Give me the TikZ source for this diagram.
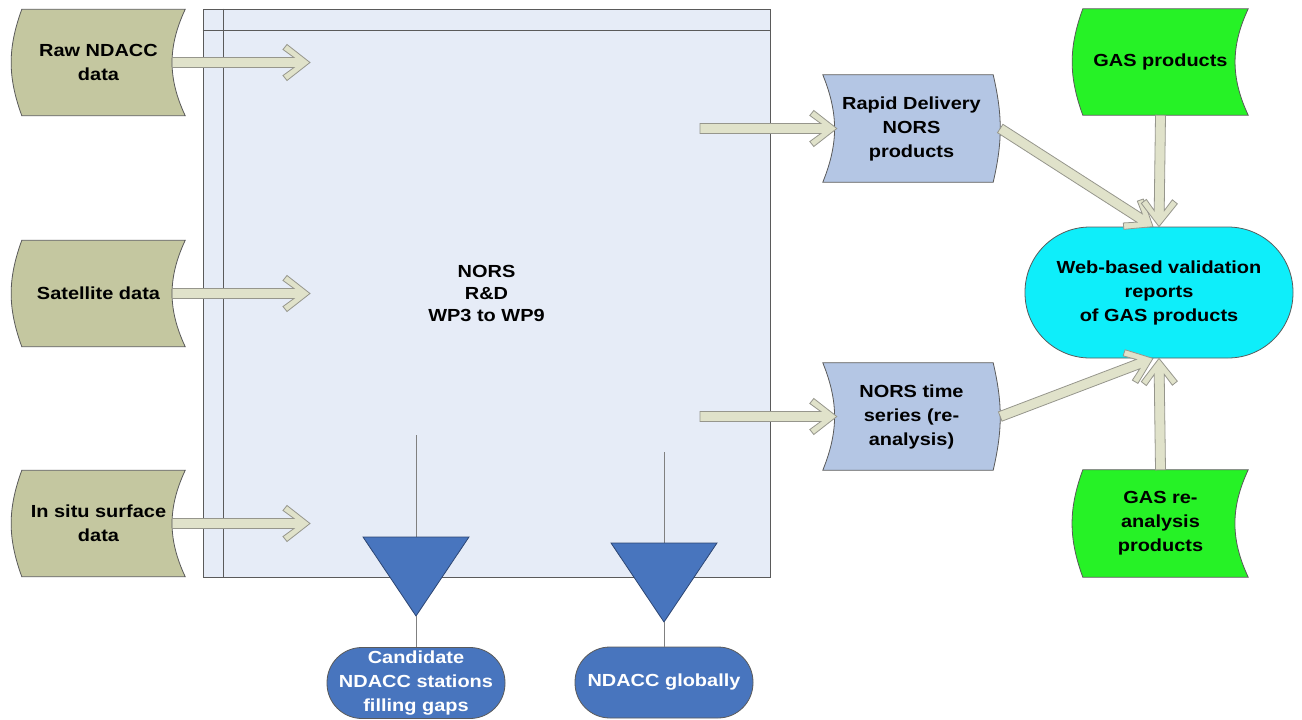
\documentclass[tikz,border=0pt]{standalone}
\usepackage{fontspec}
\setmainfont[FakeStretch=1.14]{Liberation Sans}
\usetikzlibrary{calc,backgrounds}

\definecolor{edgegray}{RGB}{90,90,90}
\definecolor{boxfill}{RGB}{230,236,247}
\definecolor{datafill}{RGB}{196,199,160}
\definecolor{arrowfill}{RGB}{224,226,202}
\definecolor{arrowline}{RGB}{150,150,140}
\definecolor{norsfill}{RGB}{180,198,228}
\definecolor{gasfill}{RGB}{38,242,38}
\definecolor{webfill}{RGB}{14,238,250}
\definecolor{ndaccfill}{RGB}{72,117,190}
\definecolor{ndaccline}{RGB}{45,70,115}
\definecolor{linegray}{RGB}{128,128,128}

% stored data: round side out on the left, in on the right
\newcommand{\datain}[2]{%
  \begin{pgfonlayer}{background}
    \draw[outline, fill=#2] ([xshift=10]#1.north west) to[bend right=20] ([xshift=10]#1.south west)
      -- (#1.south east) to[bend left=25] (#1.north east) -- cycle;
  \end{pgfonlayer}}
% the same, mirrored
\newcommand{\dataout}[2]{%
  \begin{pgfonlayer}{background}
    \draw[outline, fill=#2] (#1.north west) to[bend left=22] (#1.south west)
      -- ([xshift=-7]#1.south east) to[bend right=13] ([xshift=-7]#1.north east) -- cycle;
  \end{pgfonlayer}}

\tikzset{
  outline/.style={draw=edgegray, line width=0.8},
  datanode/.style={minimum width=173, minimum height=106, align=center, inner sep=0},
  pill/.style={rectangle, rounded corners=#1, outline, align=center, inner sep=0},
  thinline/.style={draw=linegray, line width=1},
  tri/.style={draw=ndaccline, line width=0.8, fill=ndaccfill},
  hollow/.style={outline, draw=arrowline, fill=arrowfill, to path={
    let \p1=(\tikztostart), \p2=(\tikztotarget),
        \n1={atan2(\y2-\y1,\x2-\x1)}, \n2={veclen(\x2-\x1,\y2-\y1)} in
    ($(\p1)+(\n1+90:5pt)$)
    -- ($(\p1)+(\n1:\n2-16pt)+(\n1+90:5pt)$)
    -- ($(\p1)+(\n1:\n2-27pt)+(\n1+90:13pt)$)
    -- ($(\p1)+(\n1:\n2-23pt)+(\n1+90:18pt)$)
    -- (\p2)
    -- ($(\p1)+(\n1:\n2-23pt)+(\n1-90:18pt)$)
    -- ($(\p1)+(\n1:\n2-27pt)+(\n1-90:13pt)$)
    -- ($(\p1)+(\n1:\n2-16pt)+(\n1-90:5pt)$)
    -- ($(\p1)+(\n1-90:5pt)$) -- cycle}}
}

\begin{document}
\begin{tikzpicture}[x=1pt, y=-1pt, font=\bfseries\fontsize{17.5}{24}\selectfont]
\useasboundingbox (0,0) rectangle (1302,720);

% NORS work packages
\node[outline, fill=boxfill, minimum width=567, minimum height=568, align=center,
      font=\bfseries\fontsize{17.5}{22}\selectfont] (nors) at (486.5,293) {NORS\\R\&D\\WP3 to WP9};
\draw[outline] ([xshift=21]nors.north west) -- ([xshift=21]nors.south west);
\draw[outline] ([yshift=-22]nors.north west) -- ([yshift=-22]nors.north east);

% inputs
\node[datanode] (raw) at (98.5,62.5) {Raw NDACC\\data};
\node[datanode] (sat) at (98.5,293.5) {Satellite data};
\node[datanode] (insitu) at (98.5,523.5) {In situ surface\\data};
\datain{raw}{datafill}
\datain{sat}{datafill}
\datain{insitu}{datafill}

\coordinate (rawin) at (310,62.5);
\coordinate (satin) at (310,293.5);
\coordinate (insituin) at (310,523.5);
\draw[hollow] ([xshift=-13]raw.east) to (rawin);
\draw[hollow] ([xshift=-13]sat.east) to (satin);
\draw[hollow] ([xshift=-13]insitu.east) to (insituin);

% NORS products
\node[datanode, minimum width=177, minimum height=107] (rapid) at (911.5,128.5) {Rapid Delivery\\NORS\\products};
\node[datanode, minimum width=177, minimum height=107] (series) at (911.5,416.5) {NORS time\\series (re-\\analysis)};
\dataout{rapid}{norsfill}
\dataout{series}{norsfill}

\coordinate (rapidout) at (700,128.5);
\coordinate (seriesout) at (700,416.5);
\draw[hollow] (rapidout) to ([xshift=14]rapid.west);
\draw[hollow] (seriesout) to ([xshift=14]series.west);

% GAS products
\node[datanode, minimum width=175] (gas) at (1160.5,62) {GAS products};
\node[datanode, minimum width=175, minimum height=107] (gasre) at (1160.5,523.5) {GAS re-\\analysis\\products};
\datain{gas}{gasfill}
\datain{gasre}{gasfill}

\node[pill=65, fill=webfill, minimum width=268, minimum height=131] (web) at (1159,292.5) {Web-based validation\\reports\\of GAS products};

\draw[hollow] (rapid.east) to ([xshift=-6]web.north);
\draw[hollow] (gas.south) to (web.north);
\draw[hollow] (series.east) to ([xshift=-6]web.south);
\draw[hollow] (gasre.north) to (web.south);

% NDACC outputs
\node[pill=35, fill=ndaccfill, text=white, minimum width=178, minimum height=71] (cand) at (416,683) {Candidate\\NDACC stations\\filling gaps};
\node[pill=35, fill=ndaccfill, text=white, minimum width=178, minimum height=71] (glob) at (664,682.5) {NDACC globally};

\coordinate (from1) at (416,435);
\coordinate (top1) at (416,537);
\draw[thinline] (from1) -- (top1);
\draw[tri] (363,537) -- (469,537) -- (416,616) coordinate (tip1) -- cycle;
\draw[thinline] (tip1) -- (cand);

\coordinate (from2) at (664,452);
\coordinate (top2) at (664,543);
\draw[thinline] (from2) -- (top2);
\draw[tri] (611,543) -- (717,543) -- (664,622) coordinate (tip2) -- cycle;
\draw[thinline] (tip2) -- (glob);
\end{tikzpicture}
\end{document}
